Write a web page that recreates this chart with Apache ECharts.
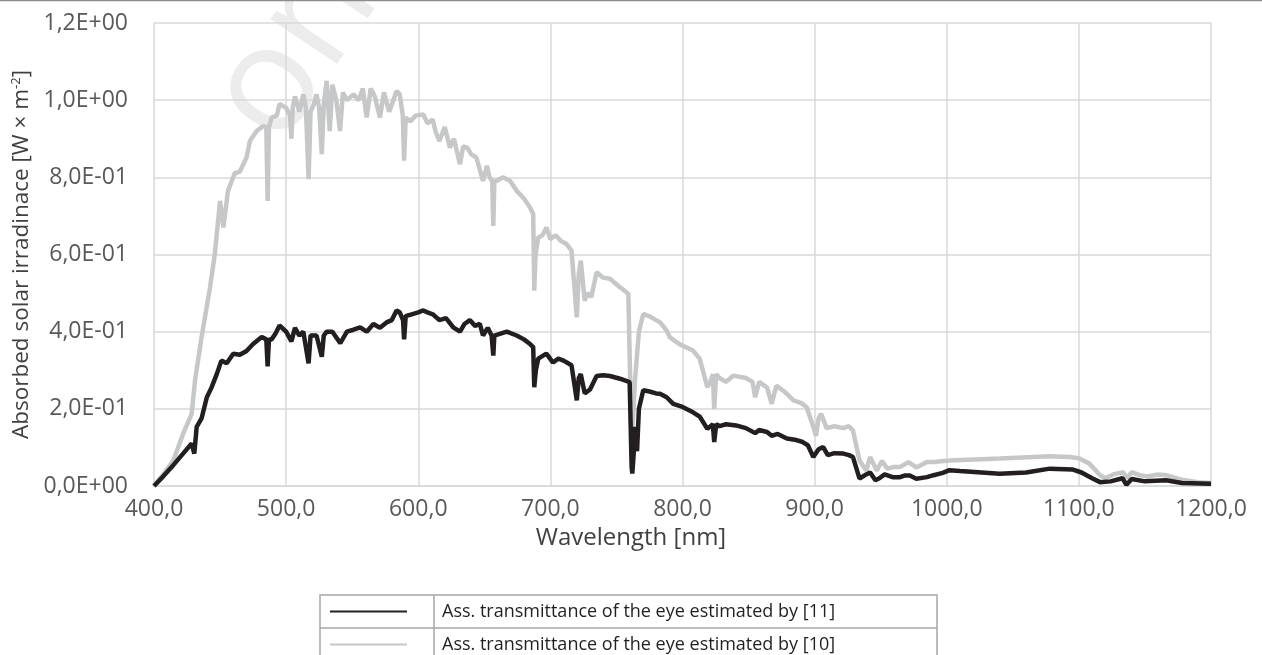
<!DOCTYPE html>
<html>
<head>
<meta charset="utf-8">
<script src="https://cdn.jsdelivr.net/npm/echarts@6/dist/echarts.min.js"></script>
<style>
html,body{margin:0;padding:0;background:#fff;}
#chart{width:1262px;height:655px;}
</style>
</head>
<body>
<div id="chart"></div>
<script>
// ---- Data ----
const seriesNames = [
  'Ass. transmittance of the eye estimated by [11]',
  'Ass. transmittance of the eye estimated by [10]'
];
const xTicks = [400, 500, 600, 700, 800, 900, 1000, 1100, 1200];
const xTickLabels = ['400,0','500,0','600,0','700,0','800,0','900,0','1000,0','1100,0','1200,0'];
const yTicks = [0, 0.2, 0.4, 0.6, 0.8, 1.0, 1.2];
const yTickLabels = ['0,0E+00','2,0E-01','4,0E-01','6,0E-01','8,0E-01','1,0E+00','1,2E+00'];

// series [10] (gray)
const waveGray = [400,407,414.6,422,428.5,430,431,436,442.4,446,450,452.5,456,461,465,470,472.6,477.7,482.7,485,486,487,489,493,495,500,503,504,505,506.7,510,513,515,517,518.5,521,523,525,527,528.5,530.7,533,535,538,540.8,543,546,551,555,558,561,564,567,571,574,578,583.6,586,588.3,589.3,590.5,594,598,603.8,607,611,613,616,620,624,627,631.6,634,637,640,644,649,652,654,656,656.8,657.6,659.4,664,669.4,674.5,680,684.6,687,687.8,688.8,690.8,694,697,700,704,708,712.3,716,720,721.5,723,726,728,731,735,740,745,752.7,759,761.5,764,767,770.3,775,780,783,788,790.5,798,808,813,818.8,821,823,824,825.5,828,833,838.5,848,853,855,858,864,867.5,871,877,884,890,894,899,901,903,905,909,915,921.7,926,929,934,939,942,947,951,955,959.5,964.6,971,977,985,990,1002,1040,1078,1093,1100,1108,1116,1120,1126,1133.6,1136,1140,1146,1152,1160,1166,1178,1190,1200];
const valGray = [0,0.03,0.066,0.135,0.187,0.19,0.273,0.386,0.515,0.60,0.739,0.67,0.765,0.81,0.815,0.851,0.894,0.92,0.933,0.93,0.739,0.93,0.955,0.96,0.99,0.98,0.96,0.90,0.98,1.01,0.97,1.015,0.98,0.795,0.97,0.99,1.015,0.98,0.86,0.99,1.05,0.92,1.04,1.0,0.92,1.02,1.0,1.015,1.0,1.03,0.955,1.03,1.01,0.955,1.02,0.97,1.024,1.015,0.96,0.843,0.955,0.945,0.96,0.963,0.94,0.95,0.92,0.894,0.93,0.877,0.90,0.834,0.88,0.877,0.86,0.851,0.791,0.83,0.80,0.79,0.674,0.79,0.791,0.80,0.791,0.765,0.745,0.722,0.705,0.506,0.60,0.644,0.65,0.67,0.64,0.65,0.635,0.627,0.61,0.437,0.55,0.584,0.48,0.50,0.49,0.554,0.54,0.537,0.515,0.498,0.10,0.273,0.40,0.446,0.44,0.43,0.424,0.403,0.385,0.367,0.351,0.33,0.256,0.27,0.29,0.20,0.29,0.28,0.27,0.286,0.28,0.27,0.23,0.27,0.255,0.213,0.26,0.245,0.222,0.215,0.204,0.153,0.13,0.175,0.187,0.15,0.155,0.15,0.155,0.144,0.066,0.04,0.075,0.04,0.065,0.045,0.049,0.049,0.062,0.048,0.062,0.062,0.066,0.071,0.077,0.075,0.072,0.058,0.028,0.02,0.03,0.036,0.02,0.036,0.028,0.025,0.03,0.028,0.016,0.01,0.008];

// series [11] (black)
const waveBlack = [400,407,414.6,422,428.5,430.5,432.3,436,440,443.5,447.5,451,455,460,465,470,475,481.5,485,486,487,489,492,495,500,504,506.7,510,513,517,518.5,523,527,528.5,530.7,535,541,546,551,556,561,566,571,576,580,583.6,586,588.5,589.3,590.5,595,600,603.8,607,611,616,621,626.5,631.6,635,639,643,646.6,649,652.6,655.5,656.8,657.6,659,667,674.5,680,684.6,687,687.8,689,690.8,697,702,706,710,716,720,721.5,723,726,730,735,740,745,752.7,760,761.5,762,763,764,765.6,767,770.3,775,780,783,788,793,800,808,813,818.8,823,824,825.5,828,833,840.5,848,855,858,864,867.5,872,879,885,891,895,899,903,906.5,910,915,921.7,926,929,934,939,942,946,949,953,959,964.6,968,972,977,985,990,997,1002,1010,1040,1060,1078,1095,1102,1110,1116,1124,1133,1136,1140,1150,1166,1178,1200];
const valBlack = [0,0.025,0.054,0.084,0.11,0.084,0.153,0.175,0.23,0.255,0.29,0.325,0.318,0.343,0.34,0.35,0.368,0.386,0.38,0.31,0.38,0.38,0.395,0.416,0.40,0.375,0.41,0.39,0.40,0.318,0.39,0.39,0.335,0.39,0.40,0.40,0.37,0.40,0.405,0.411,0.40,0.42,0.41,0.424,0.43,0.455,0.45,0.43,0.38,0.44,0.445,0.45,0.455,0.45,0.445,0.43,0.435,0.411,0.40,0.42,0.43,0.415,0.42,0.39,0.41,0.39,0.338,0.39,0.39,0.40,0.39,0.38,0.368,0.36,0.256,0.30,0.33,0.343,0.32,0.33,0.325,0.313,0.222,0.28,0.29,0.24,0.25,0.285,0.287,0.285,0.278,0.269,0.05,0.032,0.08,0.153,0.09,0.2,0.248,0.245,0.24,0.239,0.23,0.213,0.205,0.191,0.18,0.148,0.16,0.114,0.16,0.155,0.16,0.157,0.15,0.137,0.145,0.14,0.13,0.135,0.123,0.12,0.114,0.105,0.075,0.095,0.101,0.08,0.085,0.084,0.08,0.075,0.019,0.03,0.035,0.015,0.02,0.03,0.023,0.023,0.027,0.027,0.019,0.023,0.028,0.034,0.041,0.039,0.032,0.035,0.045,0.043,0.035,0.02,0.01,0.012,0.02,0.003,0.018,0.012,0.015,0.008,0.006];

const xName = 'Wavelength [nm]';
const yName = 'Absorbed solar irradinace [W × m{sup|-2}]';

// ---- Chart ----
const zip = (xs, ys) => xs.map((x, i) => [x, ys[i]]);
const AXIS_FONT = '"Open Sans", sans-serif';
const LEG_FONT = '"Open Sans", sans-serif';
const gridColor = '#d9d9d9';

const chart = echarts.init(document.getElementById('chart'), null, {renderer: 'canvas'});

const legendGraphic = [];
const LX0 = 320, LX1 = 937, LXD = 434, LY0 = 595, ROWH = 33;
legendGraphic.push({type:'rect', shape:{x:LX0, y:LY0, width:LX1-LX0, height:ROWH*2+10}, style:{fill:'none', stroke:'#a6a6a6', lineWidth:1.5}, silent:true});
legendGraphic.push({type:'line', shape:{x1:LX0, y1:LY0+ROWH, x2:LX1, y2:LY0+ROWH}, style:{stroke:'#a6a6a6', lineWidth:1.5}, silent:true});
legendGraphic.push({type:'line', shape:{x1:LXD, y1:LY0, x2:LXD, y2:LY0+ROWH*2+10}, style:{stroke:'#a6a6a6', lineWidth:1.5}, silent:true});
const legColors = ['#231f20', '#c6c7c8'];
seriesNames.forEach((nm, i) => {
  const cy = LY0 + ROWH * i + ROWH / 2;
  legendGraphic.push({type:'line', shape:{x1:330, y1:cy, x2:407, y2:cy}, style:{stroke:legColors[i], lineWidth:2}, silent:true});
  legendGraphic.push({type:'text', x:442, y:cy, style:{text:nm, font:'18px ' + LEG_FONT, fill:'#231f20', textVerticalAlign:'middle', textAlign:'left'}, silent:true});
});

chart.setOption({
  animation: false,
  backgroundColor: '#ffffff',
  grid: {left: 154, right: 51, top: 23, bottom: 169, containLabel: false},
  xAxis: {
    type: 'value', min: 400, max: 1200, interval: 100,
    name: xName, nameLocation: 'middle', nameGap: 40,
    nameTextStyle: {color: '#404040', fontSize: 24, fontFamily: AXIS_FONT, padding: [0, 103, 0, 0]},
    axisLine: {show: true, lineStyle: {color: gridColor, width: 1.5}},
    axisTick: {show: false},
    splitLine: {show: true, lineStyle: {color: gridColor, width: 1.5}},
    axisLabel: {color: '#595959', fontSize: 23, fontFamily: AXIS_FONT, margin: 12,
      formatter: v => { const i = xTicks.indexOf(Math.round(v)); return i >= 0 ? xTickLabels[i] : ''; }}
  },
  yAxis: {
    type: 'value', min: 0, max: 1.2, interval: 0.2,
    name: yName, nameLocation: 'middle', nameGap: 121, nameRotate: 90,
    nameTextStyle: {color: '#404040', fontSize: 22.5, fontFamily: AXIS_FONT,
      rich: {sup: {fontSize: 13, verticalAlign: 'top', color: '#404040', fontFamily: AXIS_FONT, padding:[0,0,8,0]}}},
    axisLine: {show: false},
    axisTick: {show: false},
    splitLine: {show: true, lineStyle: {color: gridColor, width: 1.5}},
    axisLabel: {color: '#595959', fontSize: 23, fontFamily: AXIS_FONT, margin: 26,
      formatter: v => { const i = Math.round(v / 0.2); return yTickLabels[i] || ''; }}
  },
  series: [
    {name: seriesNames[1], type: 'line', data: zip(waveGray, valGray), showSymbol: false,
     lineStyle: {color: '#c6c7c8', width: 4.5}, z: 2},
    {name: seriesNames[0], type: 'line', data: zip(waveBlack, valBlack), showSymbol: false,
     lineStyle: {color: '#231f20', width: 4.5}, z: 3}
  ],
  graphic: [
    {type:'line', shape:{x1:0, y1:0.5, x2:1262, y2:0.5}, style:{stroke:'#8c8c8c', lineWidth:1.5}, silent:true, z:10},
    {type:'text', x:295, y:50, rotation: Math.PI/3.2, z:-10, silent:true,
     style:{text:'on', font:'150px "Open Sans", sans-serif', fill:'#ececec', textAlign:'center', textVerticalAlign:'middle'}}
  ].concat(legendGraphic)
});
</script>
</body>
</html>
